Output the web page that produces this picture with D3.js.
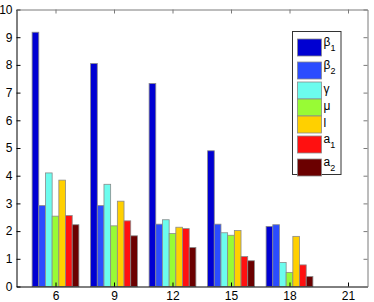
<!DOCTYPE html>
<html><head><meta charset="utf-8">
<script src="https://cdn.jsdelivr.net/npm/d3@7"></script>
<style>body{margin:0;background:#fff;} svg{display:block;} text{font-family:"Liberation Sans",Arial,Helvetica,sans-serif;}</style>
</head><body>
<svg id="c" width="374" height="302"></svg>
<script>
const categories = [6, 9, 12, 15, 18, 21];
const seriesNames = ["β", "β", "γ", "μ", "l", "a", "a"];
const seriesSubs = ["1", "2", "", "", "", "1", "2"];
const seriesColors = ["#0000d2", "#2b4cff", "#6cfcee", "#98fb35", "#ffd000", "#ff1010", "#6b0000"];
const beta1 = [9.18, 8.05, 7.33, 4.90, 2.17, 0];
const beta2 = [2.92, 2.92, 2.25, 2.25, 2.23, 0];
const gamma = [4.10, 3.69, 2.41, 1.94, 0.87, 0];
const mu    = [2.54, 2.19, 1.91, 1.85, 0.51, 0];
const lval  = [3.84, 3.08, 2.14, 2.02, 1.81, 0];
const a1    = [2.56, 2.37, 2.09, 1.08, 0.78, 0];
const a2    = [2.23, 1.83, 1.41, 0.93, 0.36, 0];
const yTicks = [0,1,2,3,4,5,6,7,8,9,10];

const series = [beta1, beta2, gamma, mu, lval, a1, a2];
const svg = d3.select("#c");
const L = 16.5, R = 367.5, T = 9.5, B = 286.5;
const x = d3.scaleLinear().domain([4, 22]).range([L, R]);
const y = d3.scaleLinear().domain([0, 10]).range([B, T]);

const nS = series.length;
const groupW = 2.4; // 0.8 of spacing 3
const bw = groupW / nS;

// bars
series.forEach((vals, si) => {
  svg.append("g").selectAll("rect").data(vals.map((v, i) => ({v, c: categories[i]})).filter(d => d.v > 0))
    .join("rect")
    .attr("x", d => x(d.c - groupW / 2 + si * bw))
    .attr("width", x(bw) - x(0))
    .attr("y", d => y(d.v))
    .attr("height", d => y(0) - y(d.v))
    .attr("fill", seriesColors[si])
    .attr("stroke", "#8a8a8a")
    .attr("stroke-width", 0.8);
});

// axes
const fs = "12px";
const gl = svg.append("g").attr("transform", `translate(${L},0)`)
  .call(d3.axisLeft(y).tickValues(yTicks).tickSizeInner(-4).tickSizeOuter(0).tickPadding(4));
const gb = svg.append("g").attr("transform", `translate(0,${B})`)
  .call(d3.axisBottom(x).tickValues(categories).tickSizeInner(-4).tickSizeOuter(0).tickPadding(5));
const gr = svg.append("g").attr("transform", `translate(${R},0)`)
  .call(d3.axisRight(y).tickValues(yTicks).tickSizeInner(-4).tickSizeOuter(0).tickFormat(""));
const gt = svg.append("g").attr("transform", `translate(0,${T})`)
  .call(d3.axisTop(x).tickValues(categories).tickSizeInner(-4).tickSizeOuter(0).tickFormat(""));
[gl, gb].forEach(g => { g.selectAll("text").attr("font-size", fs).attr("fill", "#000").attr("font-family", "Liberation Sans, Arial, sans-serif"); g.selectAll("path,line").attr("stroke", "#000"); });
[gr, gt].forEach(g => { g.selectAll("path,line").attr("stroke", "#7a7a7a"); });

// legend
const lx = 292.5, ly = 31.5, lw = 48.5;
const hSub = 23, hPlain = 17;
const heights = seriesSubs.map(s => s ? hSub : hPlain);
let cum = 4.5;
const centers = heights.map(h => { const c = cum + h / 2; cum += h; return c; });
svg.append("rect").attr("x", lx).attr("y", ly).attr("width", lw).attr("height", 143)
  .attr("fill", "#fff").attr("stroke", "#333").attr("stroke-width", 1);
const items = svg.append("g").selectAll("g").data(seriesNames.map((n, i) => ({n, s: seriesSubs[i], c: seriesColors[i], cy: ly + centers[i]})))
  .join("g");
items.append("rect").attr("x", lx + 5).attr("y", d => d.cy - 8.5).attr("width", 24).attr("height", 17)
  .attr("fill", d => d.c).attr("stroke", "#8a8a8a").attr("stroke-width", 0.8);
const tx = items.append("text").attr("x", lx + 31).attr("y", d => d.cy - (d.s ? 1.5 : -2.5))
  .attr("font-size", "12px").attr("fill", "#000");
tx.append("tspan").text(d => d.n);
tx.append("tspan").text(d => d.s).attr("font-size", "9px").attr("dy", d => d.s ? 5 : 0);
</script>
</body></html>
